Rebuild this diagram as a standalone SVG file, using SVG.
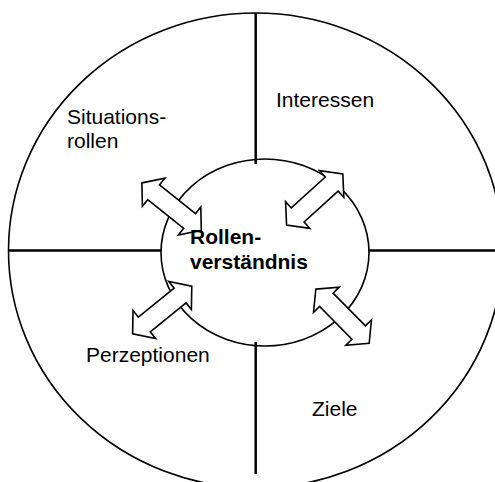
<svg xmlns="http://www.w3.org/2000/svg" xmlns:xlink="http://www.w3.org/1999/xlink" width="495" height="482" viewBox="0 0 495 482">
<style>
.ring{fill:none;stroke:#000;stroke-width:1.6}
.div{stroke:#000;stroke-width:2.5;fill:none}
.arr{fill:#fff;stroke:#000;stroke-width:1.6;stroke-linejoin:miter}
.lbl{font-family:"Liberation Sans",Arial,sans-serif;font-size:21px;fill:#000}
.ctr{font-family:"Liberation Sans",Arial,sans-serif;font-size:21px;font-weight:bold;fill:#000}
</style>
<defs>
<polygon id="dblarrow" points="-38,0 -23,-18 -23,-9.5 23,-9.5 23,-18 38,0 23,18 23,9.5 -23,9.5 -23,18"/>
</defs>
<rect width="495" height="482" fill="#fff"/>
<g id="outer-circle">
<ellipse class="ring" cx="255.7" cy="250.5" rx="247.2" ry="237.5"/>
</g>
<g id="connectors">
<line class="div" x1="255.7" y1="13" x2="255.7" y2="164"/>
<line class="div" x1="255.7" y1="342" x2="255.7" y2="474"/>
<line class="div" x1="8.5" y1="250.5" x2="161" y2="250.5"/>
<line class="div" x1="369" y1="250.5" x2="495" y2="250.5"/>
</g>
<g id="center">
<ellipse class="ring" cx="265" cy="252.5" rx="104" ry="93.5" fill="#fff"/>
</g>
<g id="arrows">
<use xlink:href="#dblarrow" class="arr" transform="translate(171.6,206.6) rotate(38.6)"/>
<use xlink:href="#dblarrow" class="arr" transform="translate(314.7,199.5) rotate(-42.3)"/>
<use xlink:href="#dblarrow" class="arr" transform="translate(162.2,310) rotate(-38.9)"/>
<use xlink:href="#dblarrow" class="arr" transform="translate(342.5,316.2) rotate(45.4)"/>
</g>
<g id="center-label">
<text class="ctr" x="190" y="244">Rollen-</text>
<text class="ctr" x="190" y="269">verständnis</text>
</g>
<g id="interessen"><text class="lbl" x="276" y="107">Interessen</text></g>
<g id="situationsrollen"><text class="lbl" x="67" y="124">Situations-</text><text class="lbl" x="67" y="148">rollen</text></g>
<g id="perzeptionen"><text class="lbl" x="86" y="362">Perzeptionen</text></g>
<g id="ziele"><text class="lbl" x="312" y="416">Ziele</text></g>
</svg>
